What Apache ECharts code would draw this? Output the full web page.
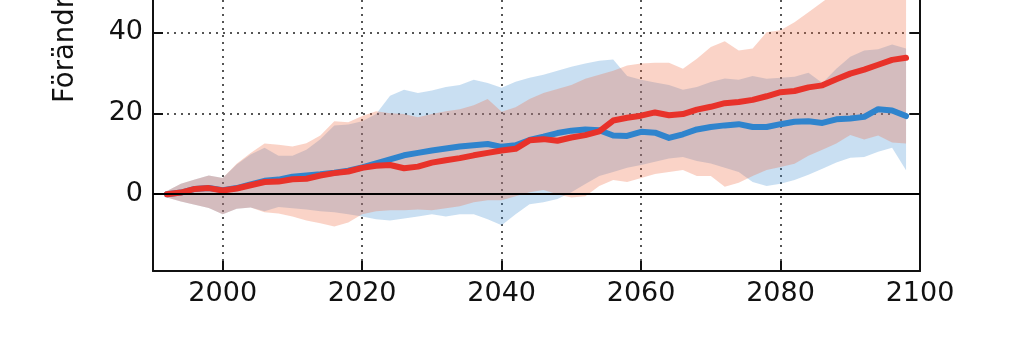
<!DOCTYPE html>
<html>
<head>
<meta charset="utf-8">
<script src="https://cdn.jsdelivr.net/npm/echarts@6/dist/echarts.min.js"></script>
<style>
  html, body { margin: 0; padding: 0; background: #fff; }
  #chart { width: 1024px; height: 342px; }
</style>
</head>
<body>
<div id="chart"></div>
<script>
// Years (centre of each value)
const years = [1992,1994,1996,1998,2000,2002,2004,2006,2008,2010,2012,2014,2016,2018,2020,2022,2024,2026,2028,2030,
               2032,2034,2036,2038,2040,2042,2044,2046,2048,2050,2052,2054,2056,2058,2060,2062,2064,2066,2068,2070,
               2072,2074,2076,2078,2080,2082,2084,2086,2088,2090,2092,2094,2096,2098];

// High-emission scenario (red): ensemble mean and spread
const redMean = [0.0,0.4,1.3,1.5,0.9,1.4,2.2,3.0,3.1,3.7,3.8,4.6,5.2,5.6,6.5,7.0,7.2,6.4,6.8,7.8,
                 8.4,8.9,9.6,10.2,10.8,11.2,13.3,13.6,13.2,14.0,14.6,15.5,18.2,18.9,19.4,20.2,19.5,19.8,20.9,21.6,
                 22.5,22.8,23.3,24.2,25.2,25.5,26.4,26.9,28.4,29.8,30.8,32.0,33.2,33.7];
const redLow  = [-0.8,-1.8,-2.6,-3.4,-5.0,-3.6,-3.3,-4.5,-4.8,-5.5,-6.5,-7.2,-8.0,-7.0,-5.0,-4.2,-4.0,-4.0,-3.8,-4.0,
                 -3.5,-3.0,-2.0,-1.5,-1.5,-0.5,0.5,1.0,0.0,-0.8,-0.5,2.0,3.5,3.0,4.0,5.0,5.5,6.0,4.5,4.5,
                 1.8,2.8,4.5,6.0,6.7,7.5,9.5,11.0,12.5,14.6,13.5,14.5,12.8,12.5];
const redHigh = [0.8,2.6,3.6,4.6,4.0,7.5,10.2,12.5,12.2,11.8,12.6,14.5,18.0,17.8,19.3,20.5,20.0,19.8,19.0,19.8,
                 20.5,21.0,22.0,23.5,20.4,21.5,23.5,25.0,26.0,27.0,28.5,29.5,30.5,31.8,32.3,32.5,32.5,31.0,33.5,36.4,
                 37.8,35.5,36.0,40.0,40.5,42.5,45.0,47.5,50.0,52.0,54.0,55.5,57.0,58.0];

// Medium-emission scenario (blue): ensemble mean and spread
const blueMean = [0.0,0.4,1.3,1.5,1.0,1.5,2.4,3.3,3.6,4.3,4.6,4.9,5.3,5.8,6.6,7.6,8.6,9.6,10.2,10.8,
                  11.3,11.8,12.1,12.4,11.7,12.1,13.4,14.2,15.1,15.7,16.0,15.8,14.5,14.4,15.4,15.2,13.9,14.8,16.0,16.6,
                  17.0,17.3,16.6,16.6,17.3,17.9,18.0,17.6,18.5,18.7,19.1,21.0,20.7,19.3];
const blueLow  = [-0.8,-1.8,-2.6,-3.4,-5.0,-3.6,-3.3,-4.2,-3.2,-3.5,-3.8,-4.2,-4.5,-5.0,-5.5,-6.2,-6.5,-6.0,-5.5,-5.0,
                  -5.5,-5.0,-5.0,-6.2,-7.7,-5.0,-2.5,-2.0,-1.2,0.5,2.5,4.5,5.5,6.5,7.2,8.0,8.8,9.2,8.2,7.6,
                  6.5,5.5,3.0,2.0,2.6,3.5,4.8,6.3,7.8,9.0,9.2,10.5,11.5,5.9];
const blueHigh = [0.8,2.6,3.6,4.6,4.0,7.3,9.8,11.5,9.5,9.5,11.0,13.6,17.0,17.2,18.0,19.8,24.3,25.8,25.0,25.6,
                  26.5,27.0,28.3,27.5,26.3,27.8,28.8,29.5,30.5,31.5,32.3,33.0,33.3,29.2,28.3,27.6,27.0,25.8,26.5,27.7,
                  28.6,28.3,29.2,28.5,28.8,29.0,30.0,27.5,31.0,34.0,35.5,35.8,37.0,36.0];

// Axis ticks
const xTicks = [2000, 2020, 2040, 2060, 2080, 2100];
const yTicks = [0, 20, 40];

const FONT = 'DejaVu Sans';
const RED = '#e8322a';
const BLUE = '#2f84cd';

const pairs = vals => years.map((y, i) => [y, vals[i]]);

// Shaded spread between lower and upper bound, drawn as one polygon on the cartesian grid
function band(lo, hi, fill) {
  return {
    type: 'custom', silent: true, clip: true,
    data: years.map((y, i) => [y, lo[i], hi[i]]),
    encode: { x: 0, y: [1, 2] },
    renderItem: function (params, api) {
      if (params.dataIndex !== 0) return null;
      const pts = [];
      for (let i = 0; i < years.length; i++) pts.push(api.coord([years[i], hi[i]]));
      for (let i = years.length - 1; i >= 0; i--) pts.push(api.coord([years[i], lo[i]]));
      return { type: 'polygon', shape: { points: pts }, style: { fill: fill, stroke: null } };
    }
  };
}

function meanLine(vals, color, extra) {
  return Object.assign({
    type: 'line', data: pairs(vals), symbol: 'none', silent: true,
    lineStyle: { color: color, width: 6, join: 'round', cap: 'round' }
  }, extra || {});
}

const chart = echarts.init(document.getElementById('chart'), null, { renderer: 'canvas' });

const axisLine = { show: true, onZero: false, lineStyle: { color: '#111', width: 2 } };
const tickStyle = { show: true, inside: true, length: 10, lineStyle: { color: '#111', width: 2 } };
const gridLine = { show: true, lineStyle: { color: '#555', width: 2, type: [2, 5] } };
const plain = v => String(v);

chart.setOption({
  animation: false,
  backgroundColor: '#fff',
  grid: { left: 153, right: 104, top: 0, bottom: 71, containLabel: false },
  xAxis: {
    type: 'value', min: 1990, max: 2100,
    axisLine: axisLine,
    axisTick: Object.assign({ customValues: xTicks }, tickStyle),
    axisLabel: { customValues: xTicks, formatter: plain, color: '#111', fontFamily: FONT, fontSize: 27, margin: 9 },
    splitLine: gridLine
  },
  yAxis: [{
    type: 'value', min: -19, max: 48, position: 'left',
    axisLine: axisLine,
    axisTick: Object.assign({ customValues: yTicks }, tickStyle),
    axisLabel: { customValues: yTicks, formatter: plain, color: '#111', fontFamily: FONT, fontSize: 27, margin: 10 },
    splitLine: gridLine
  }, {
    type: 'value', min: -19, max: 48, position: 'right',
    axisLine: axisLine,
    axisTick: Object.assign({ customValues: yTicks }, tickStyle),
    axisLabel: { show: false },
    splitLine: { show: false }
  }],
  graphic: [{
    type: 'text', x: 80, y: 103, rotation: Math.PI / 2, silent: true,
    style: { text: 'Förändring (%)', fill: '#111', font: '27.5px "DejaVu Sans"', textAlign: 'left', textVerticalAlign: 'bottom' }
  }],
  series: [
    band(blueLow, blueHigh, 'rgba(60,140,210,0.28)'),
    band(redLow, redHigh, 'rgba(240,110,70,0.30)'),
    meanLine(blueMean, BLUE, {
      markLine: {
        silent: true, symbol: ['none', 'none'], label: { show: false },
        lineStyle: { color: '#000', width: 2, type: 'solid' },
        data: [{ yAxis: 0 }]
      }
    }),
    meanLine(redMean, RED)
  ]
});
</script>
</body>
</html>
